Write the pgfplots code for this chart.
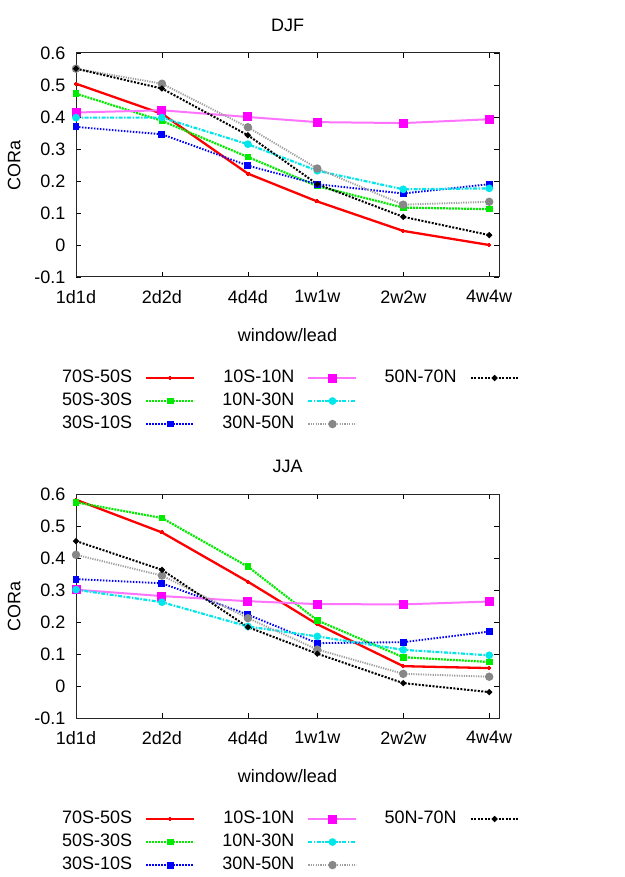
\documentclass[border=0pt]{standalone}
\usepackage{fontspec}
\setmainfont{Liberation Sans}
\usepackage{pgfplots}
\pgfplotsset{compat=1.18}

\definecolor{cgreen}{RGB}{0,235,0}
\definecolor{cmag}{RGB}{255,0,255}
\definecolor{cmagl}{RGB}{255,115,255}
\definecolor{ccyan}{RGB}{0,230,235}
\definecolor{cgray}{RGB}{135,135,135}

\pgfplotsset{
  cora/.style={
    scale only axis, width=423pt, height=224pt,
    xmin=1, xmax=30.3, ymin=-0.1, ymax=0.6,
    xtick={1,2,4,7,14,28},
    xticklabels={1d1d,2d2d,4d4d,1w1w,2w2w,4w4w},
    ytick={-0.1,0,0.1,0.2,0.3,0.4,0.5,0.6},
    yticklabel style={xshift=-7pt, /pgf/number format/fixed, /pgf/number format/precision=1},
    /pgf/number format/assume math mode=true,
    font=\fontsize{18}{21}\selectfont,
    tick align=inside, major tick length=5pt,
    tick style={black, line width=0.8pt},
    axis line style={black!85, line width=1pt},
    xlabel={window/lead}, ylabel={CORa},
    xlabel style={yshift=-18pt},
    ylabel style={yshift=7pt},
    xticklabel style={yshift=-10pt},
    title style={yshift=12pt},
    legend plot pos=right,
    legend cell align=right,
    legend columns=3, transpose legend,
    legend image code/.code={\draw[mark repeat=2,mark phase=2,##1] plot coordinates {(0pt,0pt) (24pt,0pt) (48pt,0pt)};},
    legend style={draw=none, fill=none, at={(-0.043,-0.40)}, anchor=north west,
      nodes={inner sep=1pt, text height=13pt, text depth=3.5pt},
      row sep=4.5pt,
      /tikz/every even column/.append style={column sep=26pt},
      /tikz/every odd column/.append style={column sep=12pt}},
  },
  s1/.style={red, line width=2.3pt, mark=+, mark size=2pt, mark options={solid}},
  s2/.style={cgreen, line width=2.2pt, dash pattern=on 2pt off 1pt, mark=square*, mark size=2.2pt, mark options={solid}},
  s3/.style={blue, line width=1.9pt, dash pattern=on 1.5pt off 1.5pt, mark=square*, mark size=2.5pt, mark options={solid}},
  s4/.style={cmagl, line width=2pt, mark=square*, mark size=3.5pt, mark options={solid, cmag}},
  s5/.style={ccyan, line width=2.2pt, dash pattern=on 4pt off 1.5pt on 1.5pt off 1.5pt, mark=*, mark size=2.7pt, mark options={solid}},
  s6/.style={cgray!80, line width=1.9pt, dash pattern=on 1.2pt off 1.2pt, mark=*, mark size=3.2pt, mark options={solid, cgray}},
  s7/.style={black, line width=2pt, dash pattern=on 2pt off 1.5pt, mark=*, mark size=1.8pt, mark options={solid}},
}

\begin{document}
\begin{tikzpicture}
\path[use as bounding box] (0pt,0pt) rectangle (624pt,-877pt);

\begin{axis}[xmode=log, log basis x=2, cora, title={DJF}, at={(76pt,-53pt)}, anchor=north west]
\addplot[s1] coordinates {(1,0.504) (2,0.410) (4,0.223) (7,0.136) (14,0.044) (28,0.000)};
\addlegendentry{70S-50S}
\addplot[s2] coordinates {(1,0.473) (2,0.388) (4,0.275) (7,0.184) (14,0.117) (28,0.112)};
\addlegendentry{50S-30S}
\addplot[s3] coordinates {(1,0.369) (2,0.346) (4,0.248) (7,0.190) (14,0.161) (28,0.190)};
\addlegendentry{30S-10S}
\addplot[s4] coordinates {(1,0.414) (2,0.421) (4,0.400) (7,0.384) (14,0.381) (28,0.393)};
\addlegendentry{10S-10N}
\addplot[s5] coordinates {(1,0.398) (2,0.398) (4,0.315) (7,0.232) (14,0.174) (28,0.177)};
\addlegendentry{10N-30N}
\addplot[s6] coordinates {(1,0.551) (2,0.504) (4,0.368) (7,0.239) (14,0.126) (28,0.135)};
\addlegendentry{30N-50N}
\addplot[s7] coordinates {(1,0.551) (2,0.489) (4,0.343) (7,0.190) (14,0.088) (28,0.031)};
\addlegendentry{50N-70N}
\addlegendimage{empty legend}\addlegendentry{}
\addlegendimage{empty legend}\addlegendentry{}
\end{axis}

\begin{axis}[xmode=log, log basis x=2, cora, title={JJA}, at={(76pt,-494pt)}, anchor=north west]
\addplot[s1] coordinates {(1,0.582) (2,0.480) (4,0.326) (7,0.193) (14,0.062) (28,0.056)};
\addlegendentry{70S-50S}
\addplot[s2] coordinates {(1,0.574) (2,0.525) (4,0.373) (7,0.205) (14,0.090) (28,0.075)};
\addlegendentry{50S-30S}
\addplot[s3] coordinates {(1,0.334) (2,0.321) (4,0.223) (7,0.134) (14,0.137) (28,0.170)};
\addlegendentry{30S-10S}
\addplot[s4] coordinates {(1,0.301) (2,0.281) (4,0.265) (7,0.256) (14,0.255) (28,0.264)};
\addlegendentry{10S-10N}
\addplot[s5] coordinates {(1,0.301) (2,0.262) (4,0.186) (7,0.155) (14,0.113) (28,0.096)};
\addlegendentry{10N-30N}
\addplot[s6] coordinates {(1,0.410) (2,0.345) (4,0.212) (7,0.114) (14,0.038) (28,0.029)};
\addlegendentry{30N-50N}
\addplot[s7] coordinates {(1,0.453) (2,0.363) (4,0.184) (7,0.101) (14,0.009) (28,-0.019)};
\addlegendentry{50N-70N}
\addlegendimage{empty legend}\addlegendentry{}
\addlegendimage{empty legend}\addlegendentry{}
\end{axis}
\end{tikzpicture}
\end{document}
